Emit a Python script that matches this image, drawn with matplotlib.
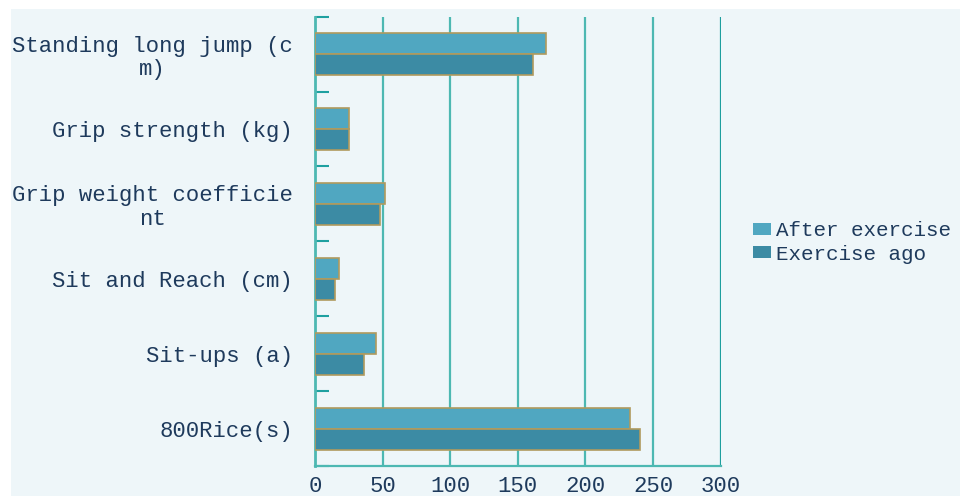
import matplotlib
matplotlib.use("Agg")
import matplotlib.pyplot as plt
from matplotlib.patches import Rectangle, Patch
import numpy as np

categories = ["Standing long jump (c\nm)", "Grip strength (kg)",
              "Grip weight coefficie\nnt", "Sit and Reach (cm)",
              "Sit-ups (a)", "800Rice(s)"]
after_exercise = [170.5, 25.5, 52, 18, 45, 233]
exercise_ago = [161.5, 25, 48, 15, 36, 240]
series_names = ["After exercise", "Exercise ago"]
xticks = [0, 50, 100, 150, 200, 250, 300]

c_after = "#50A7C1"
c_before = "#3C8BA4"
c_edge = "#B09A5E"
c_grid = "#4DB8B2"
c_text = "#1E3A5C"
bg = "#EEF6F9"
font = "Liberation Mono"
fs = 16

fig = plt.figure(figsize=(9.6, 4.96), dpi=100)
fig.patch.set_facecolor("white")
fig.add_artist(Rectangle((11 / 960, 0), 1, 1 - 9 / 496, transform=fig.transFigure,
                         facecolor=bg, edgecolor="none", zorder=-10))

ax = fig.add_axes([315 / 960, 30 / 496, 405.7 / 960, 449.3 / 496])
ax.set_facecolor("none")

n = len(categories)
y = np.arange(n)[::-1]
h = 0.28
ax.barh(y + h / 2, after_exercise, height=h, color=c_after, edgecolor=c_edge,
        linewidth=1.2, zorder=3)
ax.barh(y - h / 2, exercise_ago, height=h, color=c_before, edgecolor=c_edge,
        linewidth=1.2, zorder=3)

ax.set_xlim(0, 300)
ax.set_ylim(-0.5, n - 0.5)
ax.set_xticks(xticks)
ax.set_xticklabels([str(t) for t in xticks], fontfamily=font, fontsize=fs, color=c_text)
ax.tick_params(axis="x", length=0, pad=7)

ax.set_yticks(y)
ax.set_yticklabels(categories, fontfamily=font, fontsize=fs, color=c_text,
                   multialignment="center", linespacing=1.15)
ax.tick_params(axis="y", which="major", length=0, pad=16)
ax.set_yticks(np.arange(n + 1) - 0.5, minor=True)
ax.tick_params(axis="y", which="minor", direction="in", length=10, width=1.5,
               color="#1FA0A0")

for t in xticks[1:]:
    ax.axvline(t, color=c_grid if t < 300 else "#1E9E9E", linewidth=1.6, zorder=1)

for s in ["top", "right"]:
    ax.spines[s].set_visible(False)
ax.spines["left"].set_color(c_grid)
ax.spines["left"].set_linewidth(2)
ax.spines["bottom"].set_color(c_grid)
ax.spines["bottom"].set_linewidth(1.6)

handles = [Patch(facecolor=c_after, edgecolor="none"),
           Patch(facecolor=c_before, edgecolor="none")]
fig.legend(handles, series_names, loc="center left",
           bbox_to_anchor=(753 / 960, 1 - 242.5 / 496), frameon=False,
           prop={"family": font, "size": 15}, labelcolor=c_text,
           handlelength=0.85, handleheight=0.55, handletextpad=0.25,
           labelspacing=0.2, borderaxespad=0, borderpad=0)

fig.savefig("out.png", dpi=100, facecolor=fig.get_facecolor())
